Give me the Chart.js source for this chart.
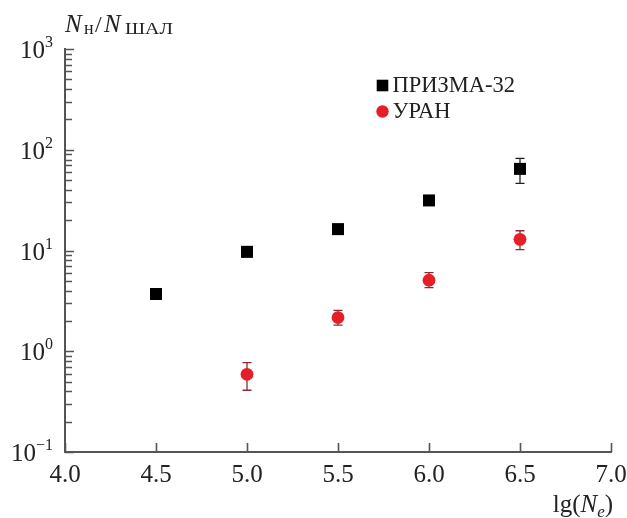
<!DOCTYPE html>
<html lang="ru">
<head>
<meta charset="UTF-8">
<title>N_н / N_ШАЛ</title>
<script src="https://cdn.jsdelivr.net/npm/chart.js"></script>
<style>
  html, body { margin: 0; padding: 0; background: #fff; }
  #box { width: 627px; height: 518px; }
</style>
</head>
<body>
<div id="box"><canvas id="grafico"></canvas></div>
<script>
// dados
const lgNe = [4.5, 5.0, 5.5, 6.0, 6.5];
const prizma = [3.7, 9.7, 16.3, 31.4, 64.6];
const prizmaLo = [3.5, 8.7, 15.4, 28.6, 46.3];
const prizmaHi = [3.9, 10.7, 17.3, 34.3, 82];

const uranX = [5.0, 5.5, 6.0, 6.5];
const uran = [0.59, 2.16, 5.07, 12.9];
const uranLo = [0.41, 1.82, 4.29, 10.2];
const uranHi = [0.77, 2.55, 6.03, 15.7];

const xTicks = [4.0, 4.5, 5.0, 5.5, 6.0, 6.5, 7.0];
const yDecades = [0.1, 1, 10, 100, 1000];
const yExp = ['\u22121', '0', '1', '2', '3'];

const serif = '"Liberation Serif", "DejaVu Serif", serif';
const axisColor = '#555';
const textColor = '#222';

function pontos(xs, ys) {
    return xs.map((x, i) => ({ x: x, y: ys[i] }));
}

// texto com largura alvo (esticado na horizontal)
function textoLargo(ctx, txt, x, y, largura) {
    const w = ctx.measureText(txt).width;
    ctx.save();
    ctx.translate(x, y);
    ctx.scale(largura / w, 1);
    ctx.fillText(txt, 0, 0);
    ctx.restore();
}

// escreve pedacos em sequencia: [texto, fonte, baseline]
function emSequencia(ctx, partes, x) {
    partes.forEach(p => {
        ctx.font = p[1] + serif;
        ctx.fillText(p[0], x, p[2]);
        x += ctx.measureText(p[0]).width;
    });
    return x;
}

// barras de erro, ticks internos, rotulos com expoente, legenda
const extras = {
    id: 'extras',
    beforeDatasetsDraw(chart) {
        const ctx = chart.ctx;
        const xs = chart.scales.x, ys = chart.scales.y;
        const grupos = [
            { x: lgNe, lo: prizmaLo, hi: prizmaHi, cor: '#222', cap: 4.5 },
            { x: uranX, lo: uranLo, hi: uranHi, cor: '#8a2a33', cap: 4.5 }
        ];
        ctx.save();
        ctx.lineWidth = 1.3;
        grupos.forEach(g => {
            ctx.strokeStyle = g.cor;
            g.x.forEach((xv, i) => {
                const px = xs.getPixelForValue(xv);
                const y1 = ys.getPixelForValue(g.lo[i]);
                const y2 = ys.getPixelForValue(g.hi[i]);
                ctx.beginPath();
                ctx.moveTo(px, y1); ctx.lineTo(px, y2);
                ctx.moveTo(px - g.cap, y1); ctx.lineTo(px + g.cap, y1);
                ctx.moveTo(px - g.cap, y2); ctx.lineTo(px + g.cap, y2);
                ctx.stroke();
            });
        });
        ctx.restore();
    },
    afterDraw(chart) {
        const ctx = chart.ctx;
        const xs = chart.scales.x, ys = chart.scales.y;
        const area = chart.chartArea;
        ctx.save();
        ctx.strokeStyle = axisColor;
        ctx.lineWidth = 1.6;
        ctx.beginPath();
        // ticks do eixo x para dentro
        xTicks.forEach(v => {
            const px = Math.round(xs.getPixelForValue(v)) + 0.5;
            ctx.moveTo(px, area.bottom);
            ctx.lineTo(px, area.bottom - 9);
        });
        // ticks do eixo y (maiores e menores)
        yDecades.forEach((d, k) => {
            for (let m = 1; m <= 9; m++) {
                if (m > 1 && k === yDecades.length - 1) break;
                const py = Math.round(ys.getPixelForValue(d * m)) + 0.5;
                ctx.moveTo(area.left, py);
                ctx.lineTo(area.left + (m === 1 ? 9 : 7), py);
            }
        });
        ctx.stroke();

        // rotulos do eixo y: 10 com expoente
        ctx.fillStyle = textColor;
        ctx.textBaseline = 'alphabetic';
        yDecades.forEach((d, k) => {
            const py = ys.getPixelForValue(d);
            ctx.font = '16px ' + serif;
            const wExp = ctx.measureText(yExp[k]).width;
            const right = area.left - 12;
            ctx.textAlign = 'left';
            ctx.fillText(yExp[k], right - wExp, py - 2);
            ctx.font = '25px ' + serif;
            ctx.textAlign = 'right';
            ctx.fillText('10', right - wExp, py + 9);
        });

        // titulo do eixo y
        ctx.textAlign = 'left';
        ctx.font = 'italic 25px ' + serif;
        ctx.fillText('N', 65, 32);
        ctx.font = '18px ' + serif;
        ctx.fillText('\u043d', 84, 34);
        ctx.font = '24px ' + serif;
        ctx.fillText('/', 95, 32);
        ctx.font = 'italic 25px ' + serif;
        ctx.fillText('N', 104, 32);
        ctx.font = '17px ' + serif;
        textoLargo(ctx, '\u0428\u0410\u041b', 125, 34, 48);

        // titulo do eixo x
        const partesX = [
            ['lg(', '25px ', 512],
            ['N', 'italic 25px ', 512],
            ['e', 'italic 17px ', 517],
            [')', '25px ', 512]
        ];
        let total = 0;
        partesX.forEach(p => { ctx.font = p[1] + serif; total += ctx.measureText(p[0]).width; });
        emSequencia(ctx, partesX, 613 - total);

        // legenda
        const lx = 382.5;
        const linhas = [85.5, 111.5];
        chart.data.datasets.forEach((ds, i) => {
            const cy = linhas[i];
            ctx.fillStyle = ds.backgroundColor;
            ctx.beginPath();
            if (ds.pointStyle === 'rect') {
                ctx.rect(lx - 5.8, cy - 5.8, 11.6, 11.6);
            } else {
                ctx.arc(lx, cy, 6.2, 0, Math.PI * 2);
            }
            ctx.fill();
            ctx.fillStyle = textColor;
            ctx.font = '22.5px ' + serif;
            ctx.textBaseline = 'middle';
            ctx.fillText(ds.label, lx + 10, cy + 1);
        });
        ctx.restore();
    }
};

const ctx = document.getElementById('grafico').getContext('2d');

const grafico = new Chart(ctx, {
    type: 'scatter',
    data: {
        datasets: [{
            label: '\u041f\u0420\u0418\u0417\u041c\u0410-32',
            data: pontos(lgNe, prizma),
            pointStyle: 'rect',
            pointRadius: 8.5,
            pointHoverRadius: 8.5,
            pointBorderWidth: 0,
            backgroundColor: '#000',
            borderColor: '#000'
        }, {
            label: '\u0423\u0420\u0410\u041d',
            data: pontos(uranX, uran),
            pointStyle: 'circle',
            pointRadius: 6.4,
            pointHoverRadius: 6.4,
            pointBorderWidth: 0,
            backgroundColor: '#e61e28',
            borderColor: '#e61e28'
        }]
    },
    options: {
        responsive: true,
        maintainAspectRatio: false,
        animation: false,
        events: [],
        layout: { padding: { left: 0, top: 49, right: 16, bottom: 0 } },
        plugins: {
            legend: { display: false },
            tooltip: { enabled: false }
        },
        scales: {
            x: {
                type: 'linear',
                min: 4,
                max: 7,
                afterFit(s) { s.height = 66; s.paddingLeft = 0; s.paddingRight = 0; },
                grid: { color: 'transparent', drawTicks: false },
                border: { color: axisColor, width: 2 },
                ticks: {
                    stepSize: 0.5,
                    padding: 8,
                    color: textColor,
                    font: { family: serif, size: 25 },
                    callback: v => Number(v).toFixed(1)
                }
            },
            y: {
                type: 'logarithmic',
                min: 0.1,
                max: 1000,
                afterFit(s) { s.width = 65; s.paddingTop = 0; s.paddingBottom = 0; },
                grid: { color: 'transparent', drawTicks: false },
                border: { color: axisColor, width: 2 },
                ticks: { display: false }
            }
        }
    },
    plugins: [extras]
});
</script>
</body>
</html>
